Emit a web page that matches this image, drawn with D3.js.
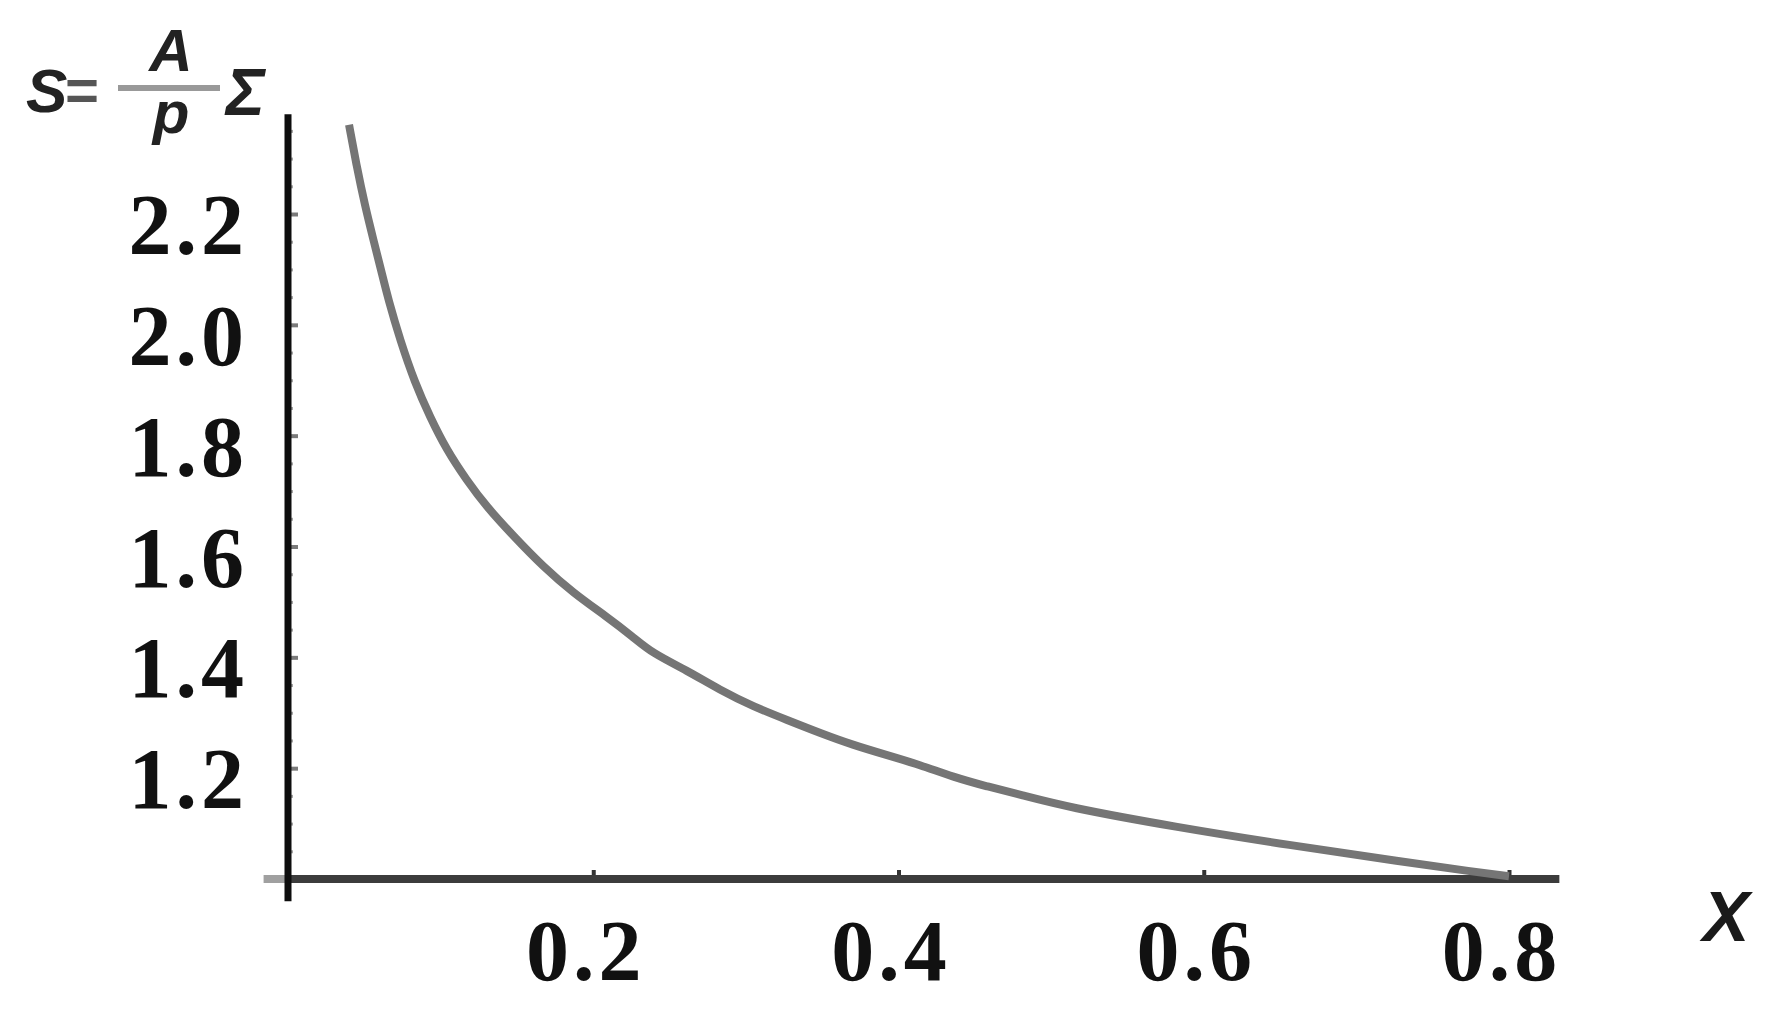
<!DOCTYPE html>
<html>
<head>
<meta charset="utf-8">
<script src="https://cdn.jsdelivr.net/npm/d3@7"></script>
<style>
  html, body { margin: 0; padding: 0; background: #fff; }
  svg { display: block; }
</style>
</head>
<body>
<svg id="chart" width="1786" height="1014"></svg>
<script>
// values
const xValues = [0.040, 0.045, 0.0505, 0.056, 0.0614, 0.0658, 0.0734, 0.0832, 0.093, 0.104, 0.117, 0.130, 0.148, 0.167, 0.187, 0.209, 0.226, 0.239, 0.261, 0.283, 0.305, 0.327, 0.349, 0.370, 0.392, 0.414, 0.436, 0.458, 0.480, 0.510, 0.581, 0.656, 0.731, 0.777, 0.800];
const sValues = [2.361, 2.286, 2.214, 2.153, 2.094, 2.045, 1.973, 1.895, 1.834, 1.774, 1.720, 1.672, 1.618, 1.564, 1.516, 1.473, 1.437, 1.407, 1.377, 1.341, 1.311, 1.287, 1.263, 1.242, 1.224, 1.206, 1.184, 1.167, 1.152, 1.130, 1.094, 1.061, 1.031, 1.013, 1.005];
const xTicks = [0.2, 0.4, 0.6, 0.8];
const yTicks = [1.2, 1.4, 1.6, 1.8, 2.0, 2.2];
const xTickLabels = ["0.2", "0.4", "0.6", "0.8"];
const yTickLabels = ["1.2", "1.4", "1.6", "1.8", "2.0", "2.2"];

const data = xValues.map((d, i) => ({ x: d, s: sValues[i] }));

const svg = d3.select("#chart");

const x = d3.scaleLinear().domain([0, 0.8]).range([288, 1509]);
const y = d3.scaleLinear().domain([1, 2.2]).range([879, 214]);

const serif = "'Liberation Serif', 'DejaVu Serif', serif";
const sans = "'Liberation Sans', Arial, sans-serif";

// minor ticks on the y axis
const yMinor = d3.range(1.05, 2.38, 0.05);
svg.append("g")
  .attr("transform", `translate(${x(0)},0)`)
  .call(d3.axisLeft(y).tickValues(yMinor).tickSizeInner(-5).tickSizeOuter(0).tickFormat(""))
  .call(g => g.select(".domain").remove())
  .call(g => g.selectAll(".tick line").attr("stroke", "#a5a5a5").attr("stroke-width", 3));

// major y ticks + labels
svg.append("g")
  .attr("transform", `translate(${x(0)},0)`)
  .call(d3.axisLeft(y).tickValues(yTicks).tickSizeInner(-10).tickSizeOuter(0).tickPadding(40)
    .tickFormat((d, i) => yTickLabels[i]))
  .call(g => g.select(".domain").remove())
  .call(g => g.selectAll(".tick line").attr("stroke", "#7a7a7a").attr("stroke-width", 4))
  .call(g => g.selectAll(".tick text")
    .attr("dy", "0.46em")
    .attr("fill", "#111")
    .style("font", `bold 86px ${serif}`)
    .style("letter-spacing", "4px"));

// x ticks + labels
svg.append("g")
  .attr("transform", `translate(0,${y(1)})`)
  .call(d3.axisBottom(x).tickValues(xTicks).tickSizeInner(-9).tickSizeOuter(0).tickPadding(0)
    .tickFormat((d, i) => xTickLabels[i]))
  .call(g => g.select(".domain").remove())
  .call(g => g.selectAll(".tick line").attr("stroke", "#333").attr("stroke-width", 4))
  .call(g => g.selectAll(".tick text")
    .attr("y", 101)
    .attr("dy", 0)
    .attr("dx", -8)
    .attr("fill", "#111")
    .style("font", `bold 86px ${serif}`)
    .style("letter-spacing", "4px"));

// axis lines
svg.append("line")
  .attr("x1", x(-0.016)).attr("x2", x(0))
  .attr("y1", y(1)).attr("y2", y(1))
  .attr("stroke", "#a0a0a0").attr("stroke-width", 8);

svg.append("line")
  .attr("x1", x(0)).attr("x2", x(0.833))
  .attr("y1", y(1)).attr("y2", y(1))
  .attr("stroke", "#3c3c3c").attr("stroke-width", 8);

svg.append("line")
  .attr("x1", x(0)).attr("x2", x(0))
  .attr("y1", y(0.96)).attr("y2", y(2.38))
  .attr("stroke", "#0d0d0d").attr("stroke-width", 7);

// curve
const line = d3.line()
  .x(d => x(d.x))
  .y(d => y(d.s))
  .curve(d3.curveBasis);

svg.append("path")
  .datum(data)
  .attr("fill", "none")
  .attr("stroke", "#757575")
  .attr("stroke-width", 8)
  .attr("stroke-linecap", "butt")
  .attr("d", line);

// axis titles
svg.append("text")
  .attr("x", 1726).attr("y", 941)
  .attr("text-anchor", "middle")
  .attr("fill", "#1a1a1a")
  .style("font", `italic bold 70px ${sans}`)
  .text("X");

const ylab = svg.append("g").attr("fill", "#222").style("font-family", sans).style("font-style", "italic").style("font-weight", "bold");
ylab.append("text").attr("x", 26).attr("y", 112).style("font-size", "62px").text("S");
ylab.append("text").attr("x", 64).attr("y", 110).style("font-size", "58px").attr("fill", "#555").text("=");
ylab.append("line")
  .attr("x1", 118).attr("x2", 220).attr("y1", 88).attr("y2", 88)
  .attr("stroke", "#999").attr("stroke-width", 6);
ylab.append("text").attr("x", 171).attr("y", 71).attr("text-anchor", "middle").style("font-size", "60px").text("A");
ylab.append("text").attr("x", 171).attr("y", 133).attr("text-anchor", "middle").style("font-size", "60px").text("p");
ylab.append("text").attr("x", 226).attr("y", 115).style("font-size", "66px").text("Σ");
</script>
</body>
</html>
